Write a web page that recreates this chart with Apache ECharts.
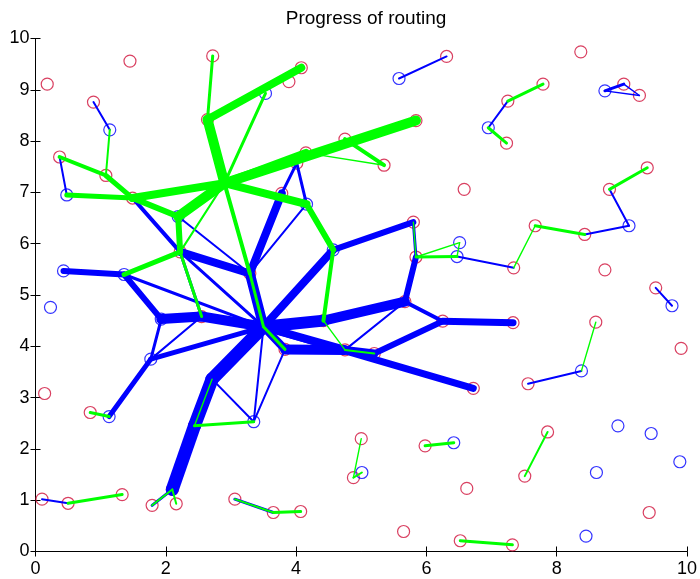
<!DOCTYPE html>
<html>
<head>
<meta charset="utf-8">
<script src="https://cdn.jsdelivr.net/npm/echarts@6/dist/echarts.min.js"></script>
<style>
  html, body { margin: 0; padding: 0; background: #fff; }
  #chart { width: 700px; height: 579px; }
</style>
</head>
<body>
<div id="chart"></div>
<script>
// node positions
const redNodes = [
  [0.18, 9.11], [1.45, 9.56], [2.72, 9.66], [3.89, 9.16], [4.08, 9.43], [0.89, 8.76],
  [0.37, 7.69], [1.08, 7.33], [1.49, 6.89], [2.64, 8.42], [4.75, 8.04], [4.15, 7.77],
  [4.01, 7.57], [3.78, 6.98], [5.35, 7.53], [5.84, 8.40], [6.31, 9.65], [8.37, 9.74],
  [7.79, 9.11], [7.25, 8.78], [7.23, 7.96], [9.03, 9.11], [9.27, 8.89], [6.58, 7.06],
  [9.39, 7.48], [8.81, 7.06], [7.67, 6.35], [8.43, 6.18], [8.74, 5.49], [5.80, 6.42],
  [5.84, 5.74], [7.34, 5.53], [9.52, 5.14], [9.91, 3.96], [7.33, 4.46], [6.25, 4.49],
  [5.67, 4.87], [5.20, 3.86], [6.72, 3.18], [8.60, 4.47], [7.56, 3.27], [7.86, 2.33],
  [7.51, 1.47], [5.00, 2.20], [4.88, 1.44], [5.98, 2.06], [6.62, 1.23], [5.65, 0.39],
  [6.52, 0.21], [7.32, 0.13], [9.42, 0.76], [0.14, 3.08], [0.84, 2.71], [0.10, 1.02],
  [0.50, 0.94], [1.33, 1.11], [1.79, 0.90], [2.16, 0.93], [2.10, 1.21], [3.06, 1.02],
  [3.65, 0.76], [4.07, 0.78], [2.44, 2.45], [3.83, 3.94], [4.75, 3.93], [2.55, 4.58],
  [4.42, 4.50], [3.29, 5.42], [2.22, 5.84]
];

const blueNodes = [
  [3.53, 8.93], [1.14, 8.22], [0.48, 6.95], [0.43, 5.47], [1.36, 5.40], [2.19, 6.53],
  [4.16, 6.77], [4.57, 5.88], [5.58, 9.22], [6.95, 8.26], [8.74, 8.98], [9.11, 6.35],
  [6.51, 6.02], [6.47, 5.75], [9.77, 4.79], [8.38, 3.52], [8.94, 2.45], [9.45, 2.30],
  [9.89, 1.75], [8.61, 1.54], [8.45, 0.30], [6.42, 2.12], [5.01, 1.54], [0.23, 4.76],
  [1.13, 2.63], [1.77, 3.75], [1.93, 4.53], [2.71, 3.36], [3.35, 2.53]
];

// routes: x1, y1, x2, y2, flow (drawn as line width)
const blueRoutes = [
  [0.43, 5.47, 1.36, 5.40, 6], [1.36, 5.40, 1.93, 4.53, 6], [1.36, 5.40, 3.50, 4.38, 3],
  [1.93, 4.53, 2.55, 4.58, 10], [2.55, 4.58, 3.50, 4.38, 10], [1.93, 4.53, 1.77, 3.75, 3],
  [1.77, 3.75, 1.13, 2.63, 5], [1.77, 3.75, 3.50, 4.38, 5], [1.77, 3.75, 2.55, 4.58, 2],
  [2.71, 3.36, 3.50, 4.38, 13], [2.44, 2.45, 2.71, 3.36, 13], [2.10, 1.21, 2.44, 2.45, 13],
  [2.71, 3.36, 3.35, 2.53, 2], [3.35, 2.53, 3.50, 4.38, 2], [3.35, 2.53, 3.83, 3.94, 2],
  [3.50, 4.38, 3.83, 3.94, 8], [3.83, 3.94, 4.75, 3.93, 10], [3.50, 4.38, 4.75, 3.93, 8],
  [4.75, 3.93, 5.20, 3.86, 8], [3.50, 4.38, 6.72, 3.18, 7], [3.50, 4.38, 4.42, 4.50, 12],
  [4.42, 4.50, 5.67, 4.87, 10], [5.67, 4.87, 5.84, 5.74, 6], [5.84, 5.74, 5.80, 6.42, 3],
  [5.80, 6.42, 4.57, 5.88, 6], [4.57, 5.88, 3.50, 4.38, 8], [5.67, 4.87, 6.25, 4.49, 4],
  [5.20, 3.86, 6.25, 4.49, 6], [6.25, 4.49, 7.33, 4.46, 7], [4.75, 3.93, 5.67, 4.87, 2],
  [3.50, 4.38, 3.29, 5.42, 10], [3.29, 5.42, 2.22, 5.84, 8], [2.22, 5.84, 2.55, 4.58, 3],
  [2.22, 5.84, 3.50, 4.38, 3], [2.19, 6.53, 3.29, 5.42, 2], [1.49, 6.89, 2.22, 5.84, 4],
  [2.19, 6.53, 2.22, 5.84, 2], [3.29, 5.42, 3.78, 6.98, 8], [3.78, 6.98, 4.01, 7.57, 3],
  [4.01, 7.57, 4.16, 6.77, 3], [4.16, 6.77, 3.29, 5.42, 2], [0.37, 7.69, 0.48, 6.95, 2],
  [0.89, 8.76, 1.14, 8.22, 2], [5.58, 9.22, 6.31, 9.65, 2], [6.95, 8.26, 7.25, 8.78, 2],
  [8.74, 8.98, 9.03, 9.11, 3], [8.74, 8.98, 9.27, 8.89, 1], [9.03, 9.11, 9.27, 8.89, 1],
  [8.81, 7.06, 9.11, 6.35, 2], [9.11, 6.35, 8.43, 6.18, 2], [6.47, 5.75, 7.34, 5.53, 2],
  [9.52, 5.14, 9.77, 4.79, 2], [7.56, 3.27, 8.38, 3.52, 2], [0.10, 1.02, 0.50, 0.94, 2],
  [1.79, 0.90, 2.10, 1.21, 3], [3.06, 1.02, 3.65, 0.76, 3]
];

const greenRoutes = [
  [2.90, 7.18, 2.64, 8.42, 10], [2.64, 8.42, 4.08, 9.43, 8], [2.64, 8.42, 2.72, 9.66, 3],
  [2.90, 7.18, 3.53, 8.93, 3], [2.90, 7.18, 5.84, 8.40, 10], [2.90, 7.18, 4.15, 7.77, 8],
  [2.90, 7.18, 4.16, 6.77, 8], [4.16, 6.77, 4.57, 5.88, 6], [4.57, 5.88, 4.42, 4.50, 4],
  [4.42, 4.50, 4.75, 3.93, 1], [4.75, 3.93, 5.20, 3.86, 2], [4.75, 8.04, 5.35, 7.53, 4],
  [4.15, 7.77, 5.35, 7.53, 1], [2.90, 7.18, 1.49, 6.89, 8], [1.49, 6.89, 0.48, 6.95, 5],
  [1.49, 6.89, 1.08, 7.33, 5], [1.08, 7.33, 0.37, 7.69, 4], [1.08, 7.33, 1.14, 8.22, 2],
  [2.90, 7.18, 2.19, 6.53, 10], [1.49, 6.89, 2.19, 6.53, 6], [2.19, 6.53, 2.22, 5.84, 6],
  [2.22, 5.84, 1.36, 5.40, 5], [2.90, 7.18, 2.22, 5.84, 2], [2.90, 7.18, 3.29, 5.42, 4],
  [3.29, 5.42, 3.50, 4.38, 3], [3.50, 4.38, 3.83, 3.94, 3], [2.22, 5.84, 2.55, 4.58, 3],
  [5.80, 6.42, 5.84, 5.74, 1], [5.84, 5.74, 6.47, 5.75, 3], [5.84, 5.74, 6.51, 6.02, 1],
  [6.51, 6.02, 6.47, 5.75, 1], [7.34, 5.53, 7.67, 6.35, 1], [7.67, 6.35, 8.43, 6.18, 3],
  [8.81, 7.06, 9.39, 7.48, 3], [7.25, 8.78, 7.79, 9.11, 3], [6.95, 8.26, 7.23, 7.96, 3],
  [8.38, 3.52, 8.60, 4.47, 1], [7.51, 1.47, 7.86, 2.33, 2], [5.98, 2.06, 6.42, 2.12, 3],
  [4.88, 1.44, 5.00, 2.20, 1], [4.88, 1.44, 5.01, 1.54, 2], [6.52, 0.21, 7.32, 0.13, 3],
  [0.50, 0.94, 1.33, 1.11, 3], [0.84, 2.71, 1.13, 2.63, 3], [1.79, 0.90, 2.10, 1.21, 2],
  [2.10, 1.21, 2.16, 0.93, 2], [3.06, 1.02, 3.65, 0.76, 2], [3.65, 0.76, 4.07, 0.78, 3],
  [2.44, 2.45, 3.35, 2.53, 3], [2.44, 2.45, 2.71, 3.36, 1]
];

const xTicks = [0, 2, 4, 6, 8, 10];
const yTicks = [0, 1, 2, 3, 4, 5, 6, 7, 8, 9, 10];

let chart = echarts.init(document.getElementById('chart'));

function toLines(list, color) {
  // thinnest routes look a bit heavier than 1px in the original
  return list.map(r => ({
    coords: [[r[0], r[1]], [r[2], r[3]]],
    lineStyle: { width: Math.max(r[4], 1.4), color: color }
  }));
}

const font = 'Liberation Sans, Arial, sans-serif';
const labelStyle = { color: '#000', fontSize: 18, fontFamily: font };

let option = {
  backgroundColor: '#fff',
  animation: false,
  title: {
    text: 'Progress of routing',
    left: 361, top: 4,
    textAlign: 'center',
    textStyle: { fontSize: 19, fontWeight: 'normal', color: '#000', fontFamily: font }
  },
  grid: { left: 35.5, right: 13, top: 38.5, bottom: 27.5, containLabel: false },
  xAxis: [
    {
      type: 'value', min: 0, max: 10, interval: 2, position: 'bottom',
      axisLine: { lineStyle: { color: '#000', width: 1 } },
      axisTick: { inside: true, length: 5, lineStyle: { color: '#000' } },
      axisLabel: Object.assign({ margin: 9, formatter: v => xTicks.includes(v) ? String(v) : '' }, labelStyle),
      splitLine: { show: false }
    },
    {
      type: 'value', min: 0, max: 10, interval: 2, position: 'top',
      axisLine: { lineStyle: { color: '#000', width: 1 } },
      axisTick: { inside: true, length: 5, lineStyle: { color: '#000' } },
      axisLabel: { show: false },
      splitLine: { show: false }
    }
  ],
  yAxis: [
    {
      type: 'value', min: 0, max: 10, interval: 1, position: 'left',
      axisLine: { lineStyle: { color: '#000', width: 1 } },
      axisTick: { inside: true, length: 5, lineStyle: { color: '#000' } },
      axisLabel: Object.assign({ margin: 6, formatter: v => yTicks.includes(v) ? String(v) : '' }, labelStyle),
      splitLine: { show: false }
    },
    {
      type: 'value', min: 0, max: 10, interval: 1, position: 'right',
      axisLine: { lineStyle: { color: '#000', width: 1 } },
      axisTick: { inside: true, length: 5, lineStyle: { color: '#000' } },
      axisLabel: { show: false },
      splitLine: { show: false }
    }
  ],
  series: [
    {
      type: 'scatter', name: 'sinks', z: 1, silent: true,
      data: redNodes, symbol: 'circle', symbolSize: 12,
      itemStyle: { color: 'rgba(0,0,0,0)', borderColor: '#d0103a', borderWidth: 1.2 }
    },
    {
      type: 'scatter', name: 'relays', z: 1, silent: true,
      data: blueNodes, symbol: 'circle', symbolSize: 12,
      itemStyle: { color: 'rgba(0,0,0,0)', borderColor: '#0000ff', borderWidth: 1.2 }
    },
    {
      type: 'lines', coordinateSystem: 'cartesian2d', z: 2, silent: true,
      lineStyle: { color: '#0000ff', opacity: 1, cap: 'round', join: 'round' },
      data: toLines(blueRoutes, '#0000ff')
    },
    {
      type: 'lines', coordinateSystem: 'cartesian2d', z: 3, silent: true,
      lineStyle: { color: '#00ff00', opacity: 1, cap: 'round', join: 'round' },
      data: toLines(greenRoutes, '#00ff00')
    }
  ]
};

chart.setOption(option);
</script>
</body>
</html>
